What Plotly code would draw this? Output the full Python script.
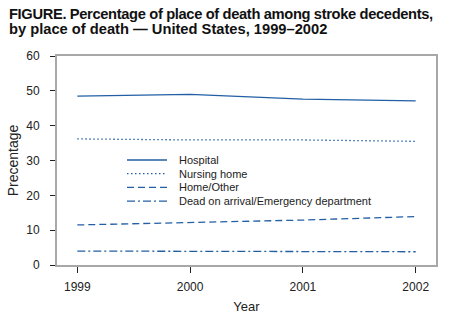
import plotly.graph_objects as go

years = [1999, 2000, 2001, 2002]
hospital = [48.5, 49.0, 47.6, 47.1]
nursing_home = [36.2, 35.9, 35.9, 35.5]
home_other = [11.5, 12.2, 12.9, 13.9]
doa_ed = [4.0, 3.9, 3.8, 3.8]

names = ["Hospital", "Nursing home", "Home/Other", "Dead on arrival/Emergency department"]
values = [hospital, nursing_home, home_other, doa_ed]
dashes = ["solid", "1.5px,2.5px", "7px,4px", "8px,3px,2px,3px"]
title_lines = ["FIGURE. Percentage of place of death among stroke decedents,",
               "by place of death — United States, 1999–2002"]
color = "#225fa5"

L, R, T, B = 57, 17, 56, 60
W, H = 453, 325
pw, ph = W - L - R, H - T - B

def px_x(p):
    return (p - L) / pw

def px_y(p):
    return (H - B - p) / ph

fig = go.Figure()
for name, vals, dash in zip(names, values, dashes):
    fig.add_trace(go.Scatter(x=years, y=vals, mode="lines", name=name, showlegend=False,
                             line=dict(color=color, width=1.3, dash=dash)))

font = "Liberation Sans, Arial, sans-serif"

# manual legend (compact rows as in reference)
shapes = []
annotations = []
row0, step = 160, 13.7
for i, (name, dash) in enumerate(zip(names, dashes)):
    yy = px_y(row0 + i * step)
    shapes.append(dict(type="line", xref="paper", yref="paper", x0=px_x(127), x1=px_x(167),
                       y0=yy, y1=yy, line=dict(color=color, width=1.3, dash=dash)))
    annotations.append(dict(text=name, xref="paper", yref="paper", x=px_x(177), y=yy,
                            xanchor="left", yanchor="middle", showarrow=False,
                            font=dict(family=font, size=11, color="#222222")))

for i, (line, sp) in enumerate(zip(title_lines, ["-0.35px", "0px"])):
    annotations.append(dict(
        text=f"<b><span style='letter-spacing:{sp}'>{line}</span></b>",
        xref="paper", yref="paper", x=px_x(7), y=px_y(14 + 15 * i), xanchor="left", yanchor="middle",
        align="left", showarrow=False, font=dict(family=font, size=14.7, color="#111111")))

fig.update_layout(
    width=W, height=H,
    margin=dict(l=L, r=R, t=T, b=B),
    paper_bgcolor="white", plot_bgcolor="white",
    font=dict(family=font, size=12, color="#222222"),
    showlegend=False,
    shapes=shapes, annotations=annotations,
    xaxis=dict(range=[1998.82, 2002.18], tickvals=years, ticktext=[str(y) for y in years],
               showgrid=False, zeroline=False, showline=True, linecolor="#a8a8a8", linewidth=2,
               mirror=True, ticks="outside", ticklen=6, tickcolor="#222222",
               ticklabelstandoff=4,
               title=dict(text="Year", font=dict(size=13), standoff=8)),
    yaxis=dict(range=[0, 60], tickvals=[0, 10, 20, 30, 40, 50, 60],
               showgrid=False, zeroline=False, showline=True, linecolor="#a8a8a8", linewidth=2,
               mirror=True, ticks="outside", ticklen=5, tickcolor="#222222",
               ticklabelstandoff=8,
               title=dict(text="Precentage", font=dict(size=14), standoff=4)),
)
fig.write_html("out.html")
